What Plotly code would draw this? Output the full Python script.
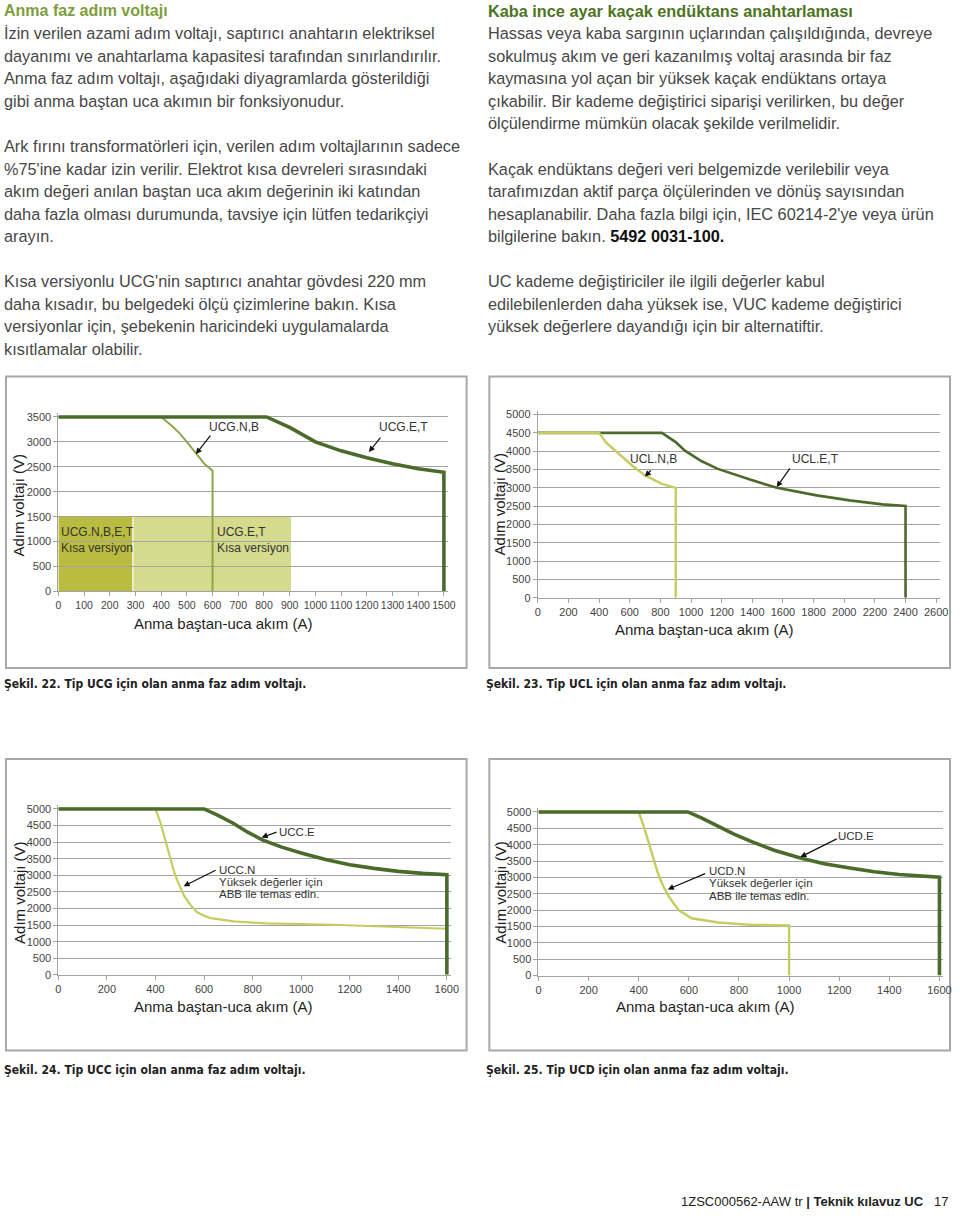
import plotly.graph_objects as go

W, H = 960, 1218

# ---------------- data ----------------
# Fig 22 - UCG
ucg_nb_x = [0, 400, 440, 470, 500, 535, 570, 600, 600]
ucg_nb_y = [3500, 3500, 3330, 3180, 3000, 2780, 2550, 2420, 0]
ucg_et_x = [0, 810, 900, 1000, 1100, 1200, 1300, 1400, 1500, 1500]
ucg_et_y = [3500, 3500, 3290, 3000, 2820, 2680, 2560, 2460, 2390, 0]
ucg_short_x0 = [0, 290]
ucg_short_x1 = [290, 905]
ucg_short_v = [1500, 1500]

# Fig 23 - UCL
ucl_nb_x = [0, 400, 445, 530, 615, 700, 810, 900, 900]
ucl_nb_y = [4500, 4500, 4240, 3920, 3610, 3340, 3110, 3000, 0]
ucl_et_x = [0, 810, 900, 960, 1070, 1175, 1390, 1560, 1820, 2035, 2250, 2400, 2400]
ucl_et_y = [4500, 4500, 4250, 4015, 3725, 3517, 3219, 3000, 2794, 2658, 2550, 2505, 0]

# Fig 24 - UCC
ucc_n_x = [0, 400, 420, 437, 460, 478, 495, 518, 545, 573, 600, 627, 722, 857, 1129, 1400, 1600]
ucc_n_y = [5000, 5000, 4600, 4170, 3550, 3070, 2750, 2380, 2100, 1880, 1780, 1710, 1610, 1550, 1510, 1450, 1390]
ucc_e_x = [0, 600, 660, 720, 780, 840, 920, 1000, 1100, 1200, 1300, 1400, 1500, 1600, 1600]
ucc_e_y = [5000, 5000, 4800, 4570, 4300, 4070, 3850, 3670, 3480, 3320, 3210, 3120, 3060, 3020, 0]

# Fig 25 - UCD
ucd_n_x = [0, 400, 420, 440, 460, 480, 500, 519, 559, 611, 717, 848, 1000, 1000]
ucd_n_y = [5000, 5000, 4560, 4050, 3520, 3040, 2700, 2430, 2000, 1750, 1620, 1550, 1530, 0]
ucd_e_x = [0, 596, 650, 717, 780, 848, 940, 1045, 1140, 1242, 1340, 1440, 1520, 1600, 1600]
ucd_e_y = [5000, 5000, 4820, 4555, 4320, 4099, 3830, 3593, 3420, 3290, 3170, 3087, 3040, 3006, 0]

# ---------------- styling ----------------
FONT = "Liberation Sans, Arial, sans-serif"
DARK = "#4b6b2b"
MID = "#8aa64c"
LIGHT = "#c6cc5e"
GRID = "#a3a3a3"

charts = [
    dict(xmax=1500, ymax=3500, dx=100, px0=56, px1=446, py0=593.3, py1=417.7, fs=10.5),
    dict(xmax=2600, ymax=5000, dx=200, px0=541, px1=944, py0=599.7, py1=415.3, fs=11),
    dict(xmax=1600, ymax=5000, dx=200, px0=56, px1=449, py0=979.3, py1=812.3, fs=11),
    dict(xmax=1600, ymax=5000, dx=200, px0=541.7, px1=947.3, py0=980, py1=815.3, fs=11),
]

fig = go.Figure()
layout = dict(
    width=W, height=H, margin=dict(l=0, r=0, t=0, b=0),
    paper_bgcolor="white", plot_bgcolor="rgba(0,0,0,0)",
    showlegend=False, font=dict(family=FONT),
)
PAD = 4
for i, c in enumerate(charts):
    n = "" if i == 0 else str(i + 1)
    xr = [0, c["xmax"] * (1 + PAD / (c["px1"] - c["px0"]))]
    yr = [0, c["ymax"] * (1 + PAD / (c["py0"] - c["py1"]))]
    layout["xaxis" + n] = dict(
        domain=[c["px0"] / W, (c["px1"] + PAD) / W], range=xr,
        anchor="y" + n, dtick=c["dx"], tick0=0, tickangle=0, showgrid=False, zeroline=False,
        showline=True, linecolor=GRID, linewidth=1, ticks="outside", ticklen=4,
        tickcolor=GRID, tickfont=dict(size=c["fs"], color="#444", family=FONT),
        fixedrange=True,
    )
    layout["yaxis" + n] = dict(
        domain=[1 - c["py0"] / H, 1 - (c["py1"] - PAD) / H], range=yr,
        anchor="x" + n, dtick=500, tick0=0, showgrid=True, gridcolor=GRID,
        gridwidth=1, zeroline=False, showline=True, linecolor=GRID, linewidth=1,
        ticks="outside", ticklen=4, tickcolor=GRID,
        tickfont=dict(size=11, color="#444", family=FONT), fixedrange=True,
    )


def line(x, y, color, width, k):
    n = "" if k == 0 else str(k + 1)
    fig.add_trace(go.Scatter(x=x, y=y, mode="lines", xaxis="x" + n, yaxis="y" + n,
                             line=dict(color=color, width=width), hoverinfo="skip"))


line(ucg_nb_x, ucg_nb_y, MID, 2, 0)
line(ucg_et_x, ucg_et_y, DARK, 3.6, 0)
line(ucl_et_x, ucl_et_y, DARK, 2.6, 1)
line(ucl_nb_x, ucl_nb_y, LIGHT, 2.4, 1)
line(ucc_n_x, ucc_n_y, LIGHT, 2.2, 2)
line(ucc_e_x, ucc_e_y, DARK, 3.6, 2)
line(ucd_n_x, ucd_n_y, LIGHT, 2.4, 3)
line(ucd_e_x, ucd_e_y, DARK, 3.6, 3)

shapes = []
# shaded short-version regions (fig 22)
for x0, x1, v, col in zip(ucg_short_x0, ucg_short_x1, ucg_short_v, ["#b9bc3e", "#d5da8c"]):
    shapes.append(dict(type="rect", xref="x", yref="y", x0=x0, x1=x1, y0=0, y1=v,
                       fillcolor=col, line=dict(width=0), layer="below"))
shapes.append(dict(type="line", xref="x", yref="y", x0=ucg_short_x1[0], x1=ucg_short_x1[0],
                   y0=0, y1=ucg_short_v[0], line=dict(color="white", width=1.2), layer="below"))

# chart frames (pixel boxes)
for (x0, y0, x1, y1) in [(3, 377, 469, 670.5), (492, 377, 958, 670.5),
                         (3, 762, 469, 1055.5), (492, 762, 958, 1055.5)]:
    shapes.append(dict(type="rect", xref="paper", yref="paper", x0=x0 / W, x1=x1 / W,
                       y0=1 - y1 / H, y1=1 - y0 / H, line=dict(color="#a8a8a8", width=2),
                       fillcolor="rgba(0,0,0,0)", layer="below"))
layout["shapes"] = shapes

ann = []


def ptext(x, y, text, size=16.3, color="#474747", xanchor="left", angle=0, family=FONT):
    ann.append(dict(xref="paper", yref="paper", x=x / W, y=1 - y / H, text=text,
                    showarrow=False, xanchor=xanchor, yanchor="middle", textangle=angle,
                    font=dict(size=size, color=color, family=family)))


def dtext(k, x, y, text, size=12):
    n = "" if k == 0 else str(k + 1)
    ann.append(dict(xref="x" + n, yref="y" + n, x=x, y=y, text=text, showarrow=False,
                    xanchor="left", yanchor="middle",
                    font=dict(size=size, color="#333", family=FONT)))


def arrow(k, tx, ty, hx, hy):
    n = "" if k == 0 else str(k + 1)
    ann.append(dict(xref="x" + n, yref="y" + n, axref="x" + n, ayref="y" + n,
                    x=hx, y=hy, ax=tx, ay=ty, text="", showarrow=True,
                    arrowhead=2, arrowsize=1, arrowwidth=1.2, arrowcolor="#111"))


# ---- header text ----
left_lines = [
    (31.5, "İzin verilen azami adım voltajı, saptırıcı anahtarın elektriksel"),
    (54, "dayanımı ve anahtarlama kapasitesi tarafından sınırlandırılır."),
    (76.7, "Anma faz adım voltajı, aşağıdaki diyagramlarda gösterildiği"),
    (99.3, "gibi anma baştan uca akımın bir fonksiyonudur."),
    (145, "Ark fırını transformatörleri için, verilen adım voltajlarının sadece"),
    (167.7, "%75'ine kadar izin verilir. Elektrot kısa devreleri sırasındaki"),
    (190.3, "akım değeri anılan baştan uca akım değerinin iki katından"),
    (213, "daha fazla olması durumunda, tavsiye için lütfen tedarikçiyi"),
    (235.7, "arayın."),
    (281, "Kısa versiyonlu UCG'nin saptırıcı anahtar gövdesi 220 mm"),
    (303.7, "daha kısadır, bu belgedeki ölçü çizimlerine bakın. Kısa"),
    (326.3, "versiyonlar için, şebekenin haricindeki uygulamalarda"),
    (349, "kısıtlamalar olabilir."),
]
right_lines = [
    (31.5, "Hassas veya kaba sargının uçlarından çalışıldığında, devreye"),
    (54, "sokulmuş akım ve geri kazanılmış voltaj arasında bir faz"),
    (76.7, "kaymasına yol açan bir yüksek kaçak endüktans ortaya"),
    (99.3, "çıkabilir. Bir kademe değiştirici siparişi verilirken, bu değer"),
    (122, "ölçülendirme mümkün olacak şekilde verilmelidir."),
    (167.7, "Kaçak endüktans değeri veri belgemizde verilebilir veya"),
    (190.3, "tarafımızdan aktif parça ölçülerinden ve dönüş sayısından"),
    (213, "hesaplanabilir. Daha fazla bilgi için, IEC 60214-2'ye veya ürün"),
    (235.7, "bilgilerine bakın. <b><span style='color:#111'>5492 0031-100.</span></b>"),
    (281, "UC kademe değiştiriciler ile ilgili değerler kabul"),
    (303.7, "edilebilenlerden daha yüksek ise, VUC kademe değiştirici"),
    (326.3, "yüksek değerlere dayandığı için bir alternatiftir."),
]
LX, RX = -1, 489
ptext(LX, 9, "<b>Anma faz adım voltajı</b>", size=16, color="#7e9e3e")
ptext(RX, 9, "<b>Kaba ince ayar kaçak endüktans anahtarlaması</b>", size=16.3, color="#4d7423")
for y, t in left_lines:
    ptext(LX, y, t)
for y, t in right_lines:
    ptext(RX, y, t)

# ---- axis titles ----
for (xc, yc) in [(223, 626), (709, 632), (223, 1011), (710, 1011)]:
    ptext(xc, yc, "Anma baştan-uca akım (A)", size=15, color="#1e1e1e", xanchor="center")
for (xc, yc) in [(16, 506), (502.5, 505), (16, 896), (502.5, 896)]:
    ptext(xc, yc, "Adım voltajı (V)", size=15, color="#1e1e1e", xanchor="center", angle=-90)

# ---- captions ----
CAP = "DejaVu Sans Condensed, Liberation Sans, sans-serif"
ptext(-1, 687, "<b>Şekil. 22. Tip UCG için olan anma faz adım voltajı.</b>", size=12, color="#222", family=CAP)
ptext(487, 687, "<b>Şekil. 23. Tip UCL için olan anma faz adım voltajı.</b>", size=12, color="#222", family=CAP)
ptext(-1, 1075, "<b>Şekil. 24. Tip UCC için olan anma faz adım voltajı.</b>", size=12, color="#222", family=CAP)
ptext(487, 1075, "<b>Şekil. 25. Tip UCD için olan anma faz adım voltajı.</b>", size=12, color="#222", family=CAP)

# ---- footer ----
ptext(934, 1207, "1ZSC000562-AAW tr <b>| Teknik kılavuz UC</b>", size=13, color="#222", xanchor="right")
ptext(958, 1207, "17", size=13, color="#222", xanchor="right")

# ---- chart labels & arrows ----
# Fig 22
dtext(0, 580, 3295, "UCG.N,B")
arrow(0, 596, 3155, 535, 2757)
dtext(0, 1238, 3295, "UCG.E,T")
arrow(0, 1258, 3115, 1208, 2796)
dtext(0, 3, 1185, "UCG.N,B,E,T")
dtext(0, 3, 870, "Kısa versiyon")
dtext(0, 611, 1185, "UCG.E,T")
dtext(0, 611, 870, "Kısa versiyon")
# Fig 23
dtext(1, 590, 3788, "UCL.N,B")
arrow(1, 748, 3517, 699, 3308)
dtext(1, 1648, 3788, "UCL.E,T")
arrow(1, 1652, 3571, 1559, 3021)
# Fig 24
dtext(2, 900, 4320, "UCC.E", 11.5)
arrow(2, 905, 4320, 837, 4141)
dtext(2, 652, 3174, "UCC.N", 11.5)
dtext(2, 652, 2793, "Yüksek değerler için", 11.5)
dtext(2, 652, 2425, "ABB ile temas edin.", 11.5)
arrow(2, 654, 3174, 516, 2674)
# Fig 25
dtext(3, 1188, 4280, "UCD.E", 11.5)
arrow(3, 1196, 4199, 1045, 3622)
dtext(3, 671, 3208, "UCD.N", 11.5)
dtext(3, 671, 2814, "Yüksek değerler için", 11.5)
dtext(3, 671, 2429, "ABB ile temas edin.", 11.5)
arrow(3, 671, 3136, 516, 2632)

layout["annotations"] = ann
fig.update_layout(**layout)
fig.write_html("out.html", config=dict(displayModeBar=False),
               post_script="document.body.style.margin='0';document.body.style.overflow='hidden';")
